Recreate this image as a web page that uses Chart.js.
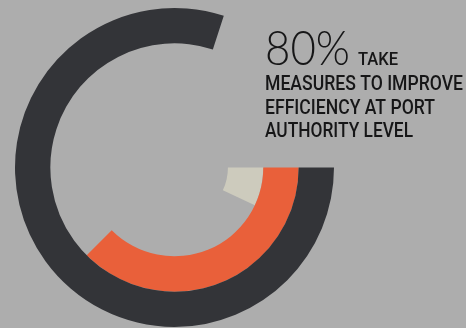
<!DOCTYPE html>
<html>
<head>
<meta charset="utf-8">
<script src="https://cdn.jsdelivr.net/npm/chart.js@4"></script>
<style>
  html, body { margin: 0; padding: 0; background: #adadad; overflow: hidden; }
  canvas { display: block; }
</style>
</head>
<body>
<canvas id="c" width="466" height="328"></canvas>
<script>
// Concentric rings, outermost first; each ring is a share of 100.
const ringNames = ['Port authority level', 'Middle ring', 'Inner ring'];
const ringValues = [80, 37.5, 7];
const ringColors = ['#333438', '#e9603a', '#cdcbbd'];

// Caption text
const headline = '80%';
const headlineTail = 'TAKE';
const bodyLines = ['MEASURES TO IMPROVE', 'EFFICIENCY AT PORT', 'AUTHORITY LEVEL'];

const datasets = ringValues.map((v, i) => ({
  label: ringNames[i],
  data: [v, 100 - v],
  backgroundColor: [ringColors[i], 'rgba(0,0,0,0)'],
  borderWidth: 0,
  hoverOffset: 0
}));

// Draws the caption to the right of the rings.
const captionPlugin = {
  id: 'caption',
  afterDraw(chart) {
    const ctx = chart.ctx;
    ctx.save();
    ctx.fillStyle = '#161617';
    ctx.textBaseline = 'alphabetic';
    ctx.textAlign = 'left';

    const fitText = (text, font, x, y, width) => {
      ctx.font = font;
      const w = ctx.measureText(text).width;
      ctx.save();
      ctx.translate(x, y);
      ctx.scale(width / w, 1);
      ctx.fillText(text, 0, 0);
      ctx.restore();
    };

    fitText(headline, '300 47px Lato, "Open Sans", sans-serif', 265, 65, 85);
    fitText(headlineTail, '500 19px Roboto, sans-serif', 358, 65, 40);

    const widths = [198, 170, 148];
    const baselines = [90, 113.5, 137];
    bodyLines.forEach((line, i) => {
      fitText(line, '500 20px Roboto, sans-serif', 265, baselines[i], widths[i]);
    });
    ctx.restore();
  }
};

new Chart(document.getElementById('c'), {
  type: 'doughnut',
  data: { labels: ['share', 'rest'], datasets },
  options: {
    responsive: false,
    animation: false,
    rotation: 90,
    cutout: '33.5%',
    layout: { padding: { left: 15, top: 8, right: 132, bottom: 1 } },
    plugins: { legend: { display: false }, tooltip: { enabled: false } },
    events: []
  },
  plugins: [captionPlugin]
});
</script>
</body>
</html>
